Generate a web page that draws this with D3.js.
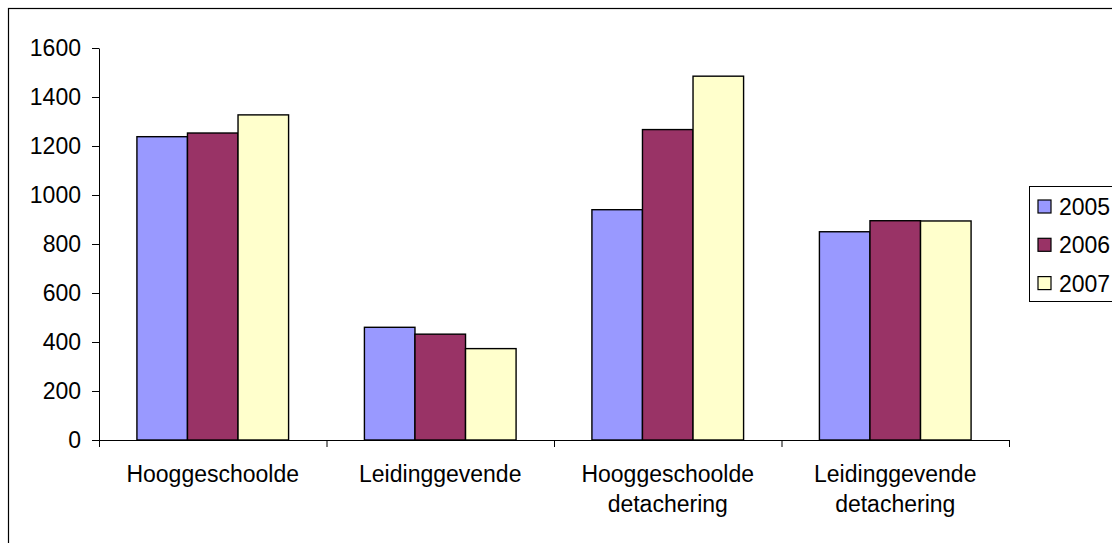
<!DOCTYPE html>
<html>
<head>
<meta charset="utf-8">
<title>Hooggeschoolde / Leidinggevende 2005-2007</title>
<script src="https://d3js.org/d3.v7.min.js"></script>
<style>
  body { margin: 0; background: #fff; }
  text { font-family: "Liberation Sans", Arial, sans-serif; fill: #000; }
</style>
</head>
<body>
<div id="chart"></div>
<script>
// data
var categories = [["Hooggeschoolde"], ["Leidinggevende"], ["Hooggeschoolde", "detachering"], ["Leidinggevende", "detachering"]];
var years = ["2005", "2006", "2007"];
var values2005 = [1238, 460, 940, 850];
var values2006 = [1253, 432, 1267, 895];
var values2007 = [1327, 373, 1485, 894];
var yTicks = [0, 200, 400, 600, 800, 1000, 1200, 1400, 1600];

var colors = ["#9999ff", "#993366", "#ffffcc"];
var series = [values2005, values2006, values2007];

var W = 1112, H = 543;
var plot = {left: 99, right: 1009, top: 48, bottom: 440};
var fontSize = "23px";

var svg = d3.select("#chart").append("svg")
  .attr("width", W)
  .attr("height", H);

// outer chart frame (runs off the right and bottom of the picture)
svg.append("rect")
  .attr("x", 8.5).attr("y", 8.5)
  .attr("width", 1200).attr("height", 700)
  .attr("fill", "#fff")
  .attr("stroke", "#000")
  .attr("stroke-width", 1.2);

var catIdx = d3.range(categories.length);

var x = d3.scaleBand()
  .domain(catIdx)
  .range([plot.left, plot.right]);

var x1 = d3.scaleBand()
  .domain(years)
  .range([0, x.bandwidth()])
  .paddingInner(0)
  .paddingOuter(0.75);

var y = d3.scaleLinear()
  .domain([0, 1600])
  .range([plot.bottom, plot.top]);

// bars
var groups = svg.selectAll(".grp")
  .data(catIdx)
  .enter().append("g")
  .attr("transform", function(i) { return "translate(" + x(i) + ",0)"; });

groups.selectAll("rect")
  .data(function(i) { return years.map(function(yr, k) { return {year: yr, k: k, v: series[k][i]}; }); })
  .enter().append("rect")
  .attr("x", function(d) { return x1(d.year); })
  .attr("y", function(d) { return y(d.v); })
  .attr("width", x1.bandwidth())
  .attr("height", function(d) { return y(0) - y(d.v); })
  .attr("fill", function(d) { return colors[d.k]; })
  .attr("stroke", "#000")
  .attr("stroke-width", 1.4);

// y axis
var yAxis = svg.append("g")
  .attr("transform", "translate(" + plot.left + ",0)")
  .call(d3.axisLeft(y).tickValues(yTicks).tickFormat(d3.format("d"))
    .tickSize(7).tickSizeOuter(0).tickPadding(11));
yAxis.selectAll("text")
  .style("font-size", fontSize)
  .style("font-family", "'Liberation Sans', Arial, sans-serif");
yAxis.selectAll("line, path").attr("stroke", "#000");

// x axis with ticks between categories
var xb = d3.scaleLinear().domain([0, categories.length]).range([plot.left, plot.right]);
var xAxis = svg.append("g")
  .attr("transform", "translate(0," + plot.bottom + ")")
  .call(d3.axisBottom(xb).tickValues(d3.range(categories.length + 1)).tickFormat("").tickSize(7).tickSizeOuter(0));
xAxis.selectAll("line, path").attr("stroke", "#000");

// category labels
svg.selectAll(".cat")
  .data(catIdx)
  .enter().append("text")
  .attr("text-anchor", "middle")
  .style("font-size", fontSize)
  .each(function(i) {
    var t = d3.select(this);
    categories[i].forEach(function(line, j) {
      t.append("tspan")
        .attr("x", x(i) + x.bandwidth() / 2)
        .attr("y", 482 + j * 30)
        .text(line);
    });
  });

// legend
var lg = svg.append("g");
lg.append("rect")
  .attr("x", 1029.5).attr("y", 186.5)
  .attr("width", 200).attr("height", 115)
  .attr("fill", "#fff")
  .attr("stroke", "#000")
  .attr("stroke-width", 1);

var items = lg.selectAll(".item")
  .data(years)
  .enter().append("g")
  .attr("transform", function(d, i) { return "translate(1038," + (207 + i * 38.3) + ")"; });

items.append("rect")
  .attr("x", 0).attr("y", -7)
  .attr("width", 13).attr("height", 13)
  .attr("fill", function(d, i) { return colors[i]; })
  .attr("stroke", "#000")
  .attr("stroke-width", 1.2);

items.append("text")
  .attr("x", 21)
  .attr("y", 8)
  .style("font-size", fontSize)
  .text(function(d) { return d; });
</script>
</body>
</html>
